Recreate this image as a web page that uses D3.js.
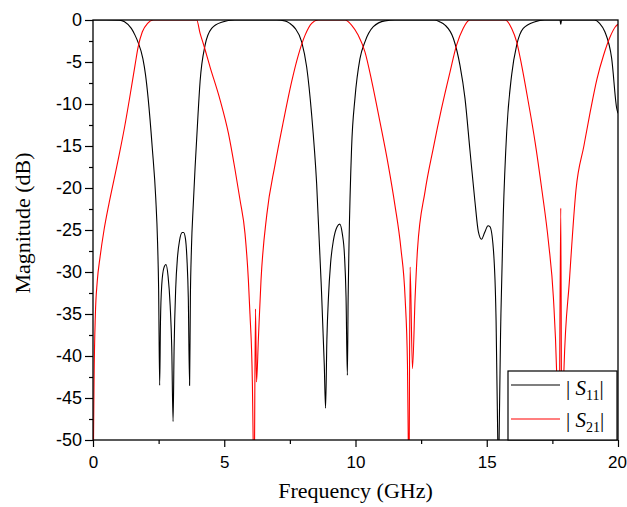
<!DOCTYPE html>
<html>
<head>
<meta charset="utf-8">
<script src="https://cdn.jsdelivr.net/npm/d3@7"></script>
<style>
  html, body { margin: 0; padding: 0; background: #fff; }
  svg { display: block; }
</style>
</head>
<body>
<svg id="chart" width="627" height="507"></svg>
<script>
// ---------- data ----------
const seriesNames = ["S11", "S21"];
const seriesColors = ["#000000", "#ff0000"];

// |S11| in dB : [frequency GHz, magnitude dB]
const s11Points = [
  [0, 0], [0.5, 0], [1.0, -0.02], [1.2, -0.2], [1.46, -1.0], [1.6, -1.8], [1.71, -2.6],
  [1.9, -4.6], [2.0, -6.5], [2.1, -9.3], [2.26, -15.3], [2.39, -21.2], [2.46, -26.5],
  [2.5, -32], [2.54, -43.5], [2.57, -36], [2.62, -31.5], [2.7, -29.5], [2.78, -29.1],
  [2.86, -30.5], [2.94, -34], [3.0, -39], [3.05, -47.8], [3.09, -39], [3.15, -32],
  [3.22, -28.2], [3.3, -26.2], [3.4, -25.3], [3.45, -25.3], [3.52, -26], [3.58, -28.5],
  [3.63, -33], [3.68, -43.5], [3.71, -33], [3.75, -27.2], [3.82, -22], [3.89, -17.5],
  [4.0, -11.3], [4.08, -7.3], [4.27, -3.0], [4.52, -1.0], [4.9, -0.27], [5.4, 0],
  [7.0, 0], [7.31, -0.1], [7.5, -0.4], [7.7, -1.0], [7.95, -2.6], [8.14, -5.6],
  [8.33, -11.3], [8.52, -19.5], [8.69, -31.2], [8.81, -41], [8.86, -46.2], [8.91, -38],
  [8.97, -33], [9.05, -29], [9.16, -26.2], [9.3, -24.6], [9.4, -24.3], [9.5, -25.5],
  [9.58, -28], [9.64, -33], [9.69, -42.3], [9.72, -33], [9.75, -27.2], [9.85, -15.3],
  [9.98, -9.3], [10.17, -4.6], [10.36, -2.6], [10.68, -0.8], [11.12, -0.1], [11.5, 0],
  [13.0, 0], [13.2, -0.2], [13.41, -0.6], [13.73, -2.2], [13.98, -5.4], [14.17, -9.3],
  [14.36, -15.5], [14.55, -21.6], [14.68, -25.2], [14.8, -26.1], [14.92, -25.3],
  [15.05, -24.5], [15.12, -24.6], [15.25, -27.2], [15.35, -35], [15.42, -50],
  [15.445, -60], [15.47, -50], [15.54, -35], [15.63, -23.2], [15.76, -13.3],
  [15.95, -6.5], [16.14, -3.0], [16.39, -1.0], [16.84, -0.2], [17.2, 0], [17.79, 0],
  [17.82, -0.5], [17.85, 0], [19.1, 0], [19.3, -0.4], [19.5, -1.4], [19.76, -4.6],
  [19.95, -10.5], [20, -11.1]
];

// |S21| in dB : [frequency GHz, magnitude dB]
const s21Points = [
  [0, -60], [0.02, -50], [0.04, -43], [0.09, -35.1], [0.16, -31.2], [0.27, -28.2],
  [0.42, -25], [0.6, -22], [0.8, -19], [1.0, -16], [1.2, -12.8], [1.4, -9.2],
  [1.6, -5.4], [1.72, -3.2], [1.88, -1.4], [2.08, -0.4], [2.3, 0], [3.95, 0], [4.08, -1.6],
  [4.2, -2.8], [4.46, -5.6], [4.84, -9.5], [5.16, -13.5], [5.41, -17.8], [5.6, -21.4],
  [5.79, -25.4], [5.92, -31], [5.98, -35], [6.07, -43], [6.11, -52], [6.13, -60],
  [6.19, -34.4], [6.23, -43.1], [6.3, -38], [6.4, -31], [6.62, -23.2], [6.93, -17.3],
  [7.25, -12.1], [7.57, -7.3], [7.82, -4.2], [8.08, -1.8], [8.33, -0.4], [8.58, 0],
  [9.6, 0], [9.85, -0.6], [10.1, -1.8], [10.36, -3.8], [10.62, -7.3], [10.93, -12.1],
  [11.25, -17.3], [11.5, -22], [11.73, -27.2], [11.89, -33.1], [11.98, -41],
  [12.01, -50], [12.03, -60], [12.08, -29.4], [12.17, -41.5], [12.27, -33.1],
  [12.36, -27.4], [12.65, -20.4], [12.96, -15.3], [13.28, -10.5], [13.6, -6.2],
  [13.85, -3.0], [14.1, -1.0], [14.36, 0], [15.7, 0], [15.95, -1.0], [16.14, -2.6],
  [16.33, -5.4], [16.58, -9.7], [16.84, -14.5], [17.09, -20], [17.35, -26.4],
  [17.54, -33.1], [17.66, -41.7], [17.72, -50],
  [17.74, -60], [17.82, -22.4], [17.86, -55], [17.9, -50], [17.94, -41.7],
  [18.15, -31], [18.4, -20.2], [18.7, -15], [18.95, -10.8], [19.2, -7], [19.45, -4.2],
  [19.7, -2], [19.9, -0.8], [20, -0.5]
];

const xTicks = [0, 5, 10, 15, 20];
const xMinorTicks = [2.5, 7.5, 12.5, 17.5];
const yTicks = [0, -5, -10, -15, -20, -25, -30, -35, -40, -45, -50];
const yMinorTicks = [-2.5, -7.5, -12.5, -17.5, -22.5, -27.5, -32.5, -37.5, -42.5, -47.5];
const xTitle = "Frequency (GHz)";
const yTitle = "Magnitude (dB)";

// ---------- layout ----------
const svg = d3.select("#chart");
const plot = { left: 93, top: 20, right: 618, bottom: 440 };

const x = d3.scaleLinear().domain([0, 20]).range([plot.left, plot.right]);
const y = d3.scaleLinear().domain([-50, 0]).range([plot.bottom, plot.top]);

const tickFont = "'Liberation Sans', Arial, sans-serif";
const serif = "'Liberation Serif', 'Times New Roman', serif";

svg.append("rect").attr("width", 627).attr("height", 507).attr("fill", "#fff");

// clip
svg.append("clipPath").attr("id", "clip")
  .append("rect")
  .attr("x", plot.left).attr("y", plot.top)
  .attr("width", plot.right - plot.left).attr("height", plot.bottom - plot.top);

// curves
const line = d3.line()
  .x(d => x(d[0]))
  .y(d => y(d[1]))
  .curve(d3.curveMonotoneX);

const curves = svg.append("g").attr("clip-path", "url(#clip)");
[s11Points, s21Points].forEach((pts, i) => {
  curves.append("path")
    .attr("d", line(pts))
    .attr("fill", "none")
    .attr("stroke", seriesColors[i])
    .attr("stroke-width", 1.1)
    .attr("stroke-linejoin", "round");
});

// axes
const xAxis = d3.axisBottom(x).tickValues(xTicks).tickSize(7).tickPadding(9)
  .tickFormat(d3.format("d"));
const xMinor = d3.axisBottom(x).tickValues(xMinorTicks).tickSize(4).tickFormat("");
const yAxis = d3.axisLeft(y).tickValues(yTicks).tickSize(8).tickPadding(3)
  .tickFormat(d => d3.format("d")(d).replace("\u2212", "-"));
const yMinor = d3.axisLeft(y).tickValues(yMinorTicks).tickSize(4).tickFormat("");

function styleAxis(g, size) {
  g.select(".domain").remove();
  g.selectAll(".tick line").attr("stroke", "#000").attr("stroke-width", 1.2);
  g.selectAll(".tick text").attr("fill", "#000")
    .style("font-family", tickFont).style("font-size", size + "px");
}

const gx = svg.append("g").attr("transform", `translate(0,${plot.bottom})`).call(xAxis).call(styleAxis, 17);
gx.selectAll(".tick text").filter(d => d === 20).attr("dx", -1);
svg.append("g").attr("transform", `translate(0,${plot.bottom})`).call(xMinor).call(styleAxis, 17);
svg.append("g").attr("transform", `translate(${plot.left},0)`).call(yAxis).call(styleAxis, 18);
svg.append("g").attr("transform", `translate(${plot.left},0)`).call(yMinor).call(styleAxis, 18);

// frame
svg.append("rect")
  .attr("x", plot.left).attr("y", plot.top)
  .attr("width", plot.right - plot.left).attr("height", plot.bottom - plot.top)
  .attr("fill", "none").attr("stroke", "#000").attr("stroke-width", 1.3);

// titles
svg.append("text")
  .attr("x", (plot.left + plot.right) / 2).attr("y", 498)
  .attr("text-anchor", "middle")
  .style("font-family", serif).style("font-size", "22px")
  .text(xTitle);

svg.append("text")
  .attr("transform", `translate(30,${(plot.top + plot.bottom) / 2 - 7}) rotate(-90)`)
  .attr("text-anchor", "middle")
  .style("font-family", serif).style("font-size", "22px")
  .text(yTitle);

// legend
const legend = svg.append("g");
legend.append("rect")
  .attr("x", 508).attr("y", 371).attr("width", 109).attr("height", 69)
  .attr("fill", "#fff").attr("stroke", "#000").attr("stroke-width", 1.2);

const legendRows = [
  { name: seriesNames[0], sub: "11", color: seriesColors[0], ly: 385, ty: 395 },
  { name: seriesNames[1], sub: "21", color: seriesColors[1], ly: 419, ty: 427 }
];
legendRows.forEach(r => {
  legend.append("line")
    .attr("x1", 511).attr("x2", 560).attr("y1", r.ly).attr("y2", r.ly)
    .attr("stroke", r.color).attr("stroke-width", 1.1);
  const t = legend.append("text")
    .attr("x", 566).attr("y", r.ty)
    .style("font-family", serif).style("font-size", "21px");
  t.append("tspan").text("| ");
  t.append("tspan").style("font-style", "italic").text("S");
  t.append("tspan").attr("dy", 5).style("font-size", "14px").text(r.sub);
  t.append("tspan").attr("dy", -5).text("|");
});
</script>
</body>
</html>
